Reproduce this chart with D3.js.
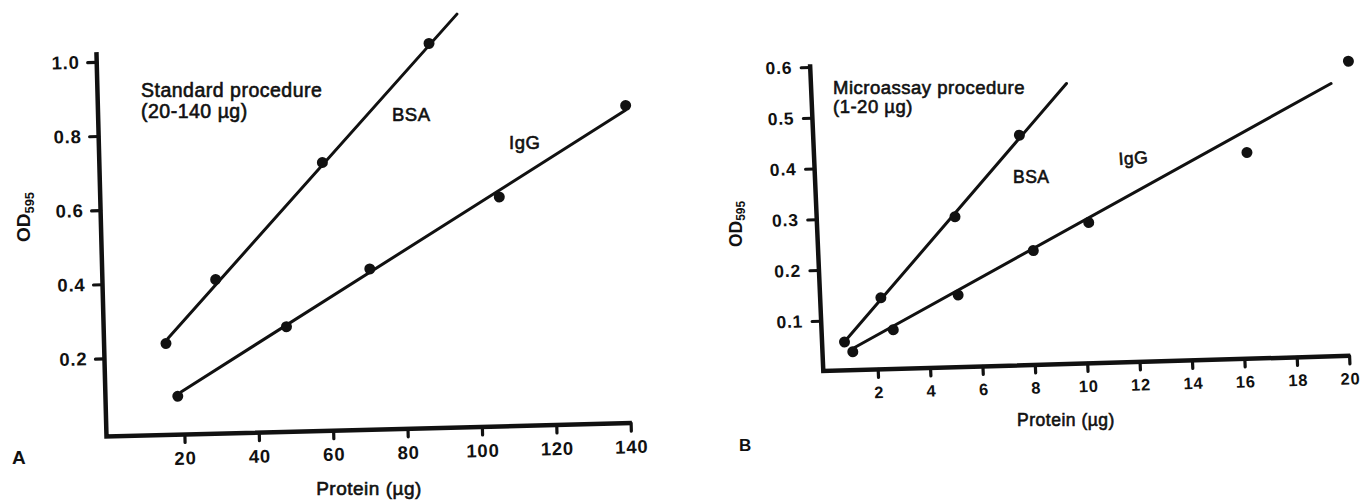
<!DOCTYPE html>
<html><head><meta charset="utf-8">
<script src="https://cdn.jsdelivr.net/npm/d3@7"></script>
<style>
body{margin:0;background:#fff;}
svg text{font-family:"Liberation Sans",Arial,Helvetica,sans-serif;fill:#111;}
</style></head><body>
<svg id="chart" width="1365" height="500"></svg>
<script>
// ---------- data: panel A (standard procedure) ----------
const xTicksA = [20, 40, 60, 80, 100, 120, 140];
const yTicksA = [0.2, 0.4, 0.6, 0.8, 1.0];
const bsaA_x = [15.7, 29.5, 59.0, 88.5];
const bsaA_y = [0.236, 0.405, 0.713, 1.027];
const bsaFitA_x = [16.3, 96.2];
const bsaFitA_y = [0.250, 1.104];
const iggA_x = [18.5, 48.2, 71.0, 106.3, 140.9];
const iggA_y = [0.093, 0.273, 0.423, 0.608, 0.846];
const iggFitA_x = [19.5, 140.8];
const iggFitA_y = [0.105, 0.833];

// ---------- data: panel B (microassay procedure) ----------
const xTicksB = [2, 4, 6, 8, 10, 12, 14, 16, 18, 20];
const yTicksB = [0.1, 0.2, 0.3, 0.4, 0.5, 0.6];
const bsaB_x = [0.78, 2.24, 5.20, 7.79];
const bsaB_y = [0.057, 0.142, 0.297, 0.454];
const bsaFitB_x = [0.90, 9.67];
const bsaFitB_y = [0.064, 0.553];
const iggB_x = [1.08, 2.66, 5.19, 8.13, 10.29, 16.44, 20.46];
const iggB_y = [0.037, 0.078, 0.143, 0.226, 0.278, 0.407, 0.581];
const iggFitB_x = [1.14, 19.76];
const iggFitB_y = [0.045, 0.538];

const svg = d3.select("#chart");
const zip = (xs, ys) => xs.map((x, i) => [x, ys[i]]);

function panel(cfg) {
  const [cx, cy] = cfg.corner;
  const ra = cfg.tiltX * Math.PI / 180, rb = cfg.tiltY * Math.PI / 180;
  const g = svg.append("g")
    .attr("transform", `translate(${cx},${cy}) matrix(${Math.cos(ra)},${-Math.sin(ra)},${Math.sin(rb)},${Math.cos(rb)},0,0) translate(${-cx},${-cy})`);
  const x = d3.scaleLinear().domain(cfg.xDomain).range(cfg.xRange);
  const y = d3.scaleLinear().domain(cfg.yDomain).range(cfg.yRange);

  const gx = g.append("g").attr("transform", `translate(0,${cy})`)
    .call(d3.axisBottom(x).tickValues(cfg.xTicks).tickSize(8).tickSizeOuter(0).tickPadding(cfg.xPad).tickFormat(d3.format("d")));
  const gy = g.append("g").attr("transform", `translate(${cx},0)`)
    .call(d3.axisLeft(y).tickValues(cfg.yTicks).tickSize(9).tickSizeOuter(0).tickPadding(cfg.yPad).tickFormat(d3.format(".1f")));
  [gx, gy].forEach(a => {
    a.select(".domain").remove();
    a.selectAll(".tick line").attr("stroke", "#111").attr("stroke-width", 3.2).attr("stroke-linecap", "round");
    a.selectAll(".tick text").attr("fill", "#111").style("font-weight", "bold");
  });
  gx.selectAll(".tick text").style("font-size", cfg.xFont + "px").attr("letter-spacing", "0.8px");
  gy.selectAll(".tick text").style("font-size", cfg.yFont + "px").attr("letter-spacing", "0.8px");

  g.append("path").attr("d", `M${cx},${cfg.yTop}L${cx},${cy}L${cfg.xEnd},${cy}`)
    .attr("fill", "none").attr("stroke", "#111").attr("stroke-width", 4.5).attr("stroke-linejoin", "miter");

  const line = d3.line().x(d => x(d[0])).y(d => y(d[1]));
  cfg.fits.forEach(f => {
    g.append("path").datum(f).attr("d", line).attr("fill", "none")
      .attr("stroke", "#111").attr("stroke-width", 3).attr("stroke-linecap", "round");
  });
  cfg.points.forEach(p => {
    g.selectAll(null).data(p).enter().append("circle")
      .attr("cx", d => x(d[0])).attr("cy", d => y(d[1])).attr("r", 5.5).attr("fill", "#111");
  });
}

panel({
  corner: [106.5, 436.5], tiltX: 1.46, tiltY: 1.5,
  xDomain: [0, 140], xRange: [110, 630.8], yDomain: [0, 1], yRange: [432.5, 61.75],
  xTicks: xTicksA, yTicks: yTicksA, yTop: 52, xEnd: 632,
  xPad: 9, yPad: 8, xFont: 18.5, yFont: 18.5,
  fits: [zip(bsaFitA_x, bsaFitA_y), zip(iggFitA_x, iggFitA_y)],
  points: [zip(bsaA_x, bsaA_y), zip(iggA_x, iggA_y)]
});
panel({
  corner: [823.3, 371], tiltX: 1.65, tiltY: 2.47,
  xDomain: [0, 20], xRange: [825.3, 1349.3], yDomain: [0, 0.6], yRange: [371.5, 66.7],
  xTicks: xTicksB, yTicks: yTicksB, yTop: 64, xEnd: 1350.5,
  xPad: 9, yPad: 9, xFont: 16.5, yFont: 17.5,
  fits: [zip(bsaFitB_x, bsaFitB_y), zip(iggFitB_x, iggFitB_y)],
  points: [zip(bsaB_x, bsaB_y), zip(iggB_x, iggB_y)]
});

function txt(x, y, s, size, opts = {}) {
  const t = svg.append("text").attr("x", x).attr("y", y).text(s)
    .style("font-size", size + "px")
    .attr("text-anchor", opts.anchor || "start")
    .attr("letter-spacing", (opts.ls ?? 0.5) + "px")
    .attr("stroke", "#111").attr("stroke-width", opts.sw ?? 0.6);
  if (opts.bold) t.style("font-weight", "bold");
  if (opts.rot) t.attr("transform", `rotate(${opts.rot},${x},${y})`);
  return t;
}
function odLabel(x, y, size) {
  const t = svg.append("text").attr("transform", `translate(${x},${y}) rotate(-90)`)
    .attr("text-anchor", "middle").style("font-size", size + "px").style("font-weight", "bold");
  t.append("tspan").text("OD");
  t.append("tspan").text("595").style("font-size", (size * 0.68) + "px").attr("dy", "0.28em");
}

// panel A
txt(141, 97, "Standard procedure", 19.5);
txt(141, 118, "(20-140 µg)", 19.5);
txt(392, 121, "BSA", 18.5);
txt(509, 149, "IgG", 18.5);
txt(369, 495, "Protein (µg)", 19, { anchor: "middle" });
txt(12, 464, "A", 19, { bold: true, sw: 0 });
odLabel(30, 217, 19);

// panel B
txt(833, 94, "Microassay procedure", 18.5);
txt(833, 113, "(1-20 µg)", 18.5);
txt(1013, 183, "BSA", 17.5);
txt(1119, 165, "IgG", 17.5, { rot: -4 });
txt(1066, 426, "Protein (µg)", 17.5, { anchor: "middle" });
txt(739, 451, "B", 17, { bold: true, sw: 0 });
odLabel(742, 224, 17.5);
</script>
</body></html>
